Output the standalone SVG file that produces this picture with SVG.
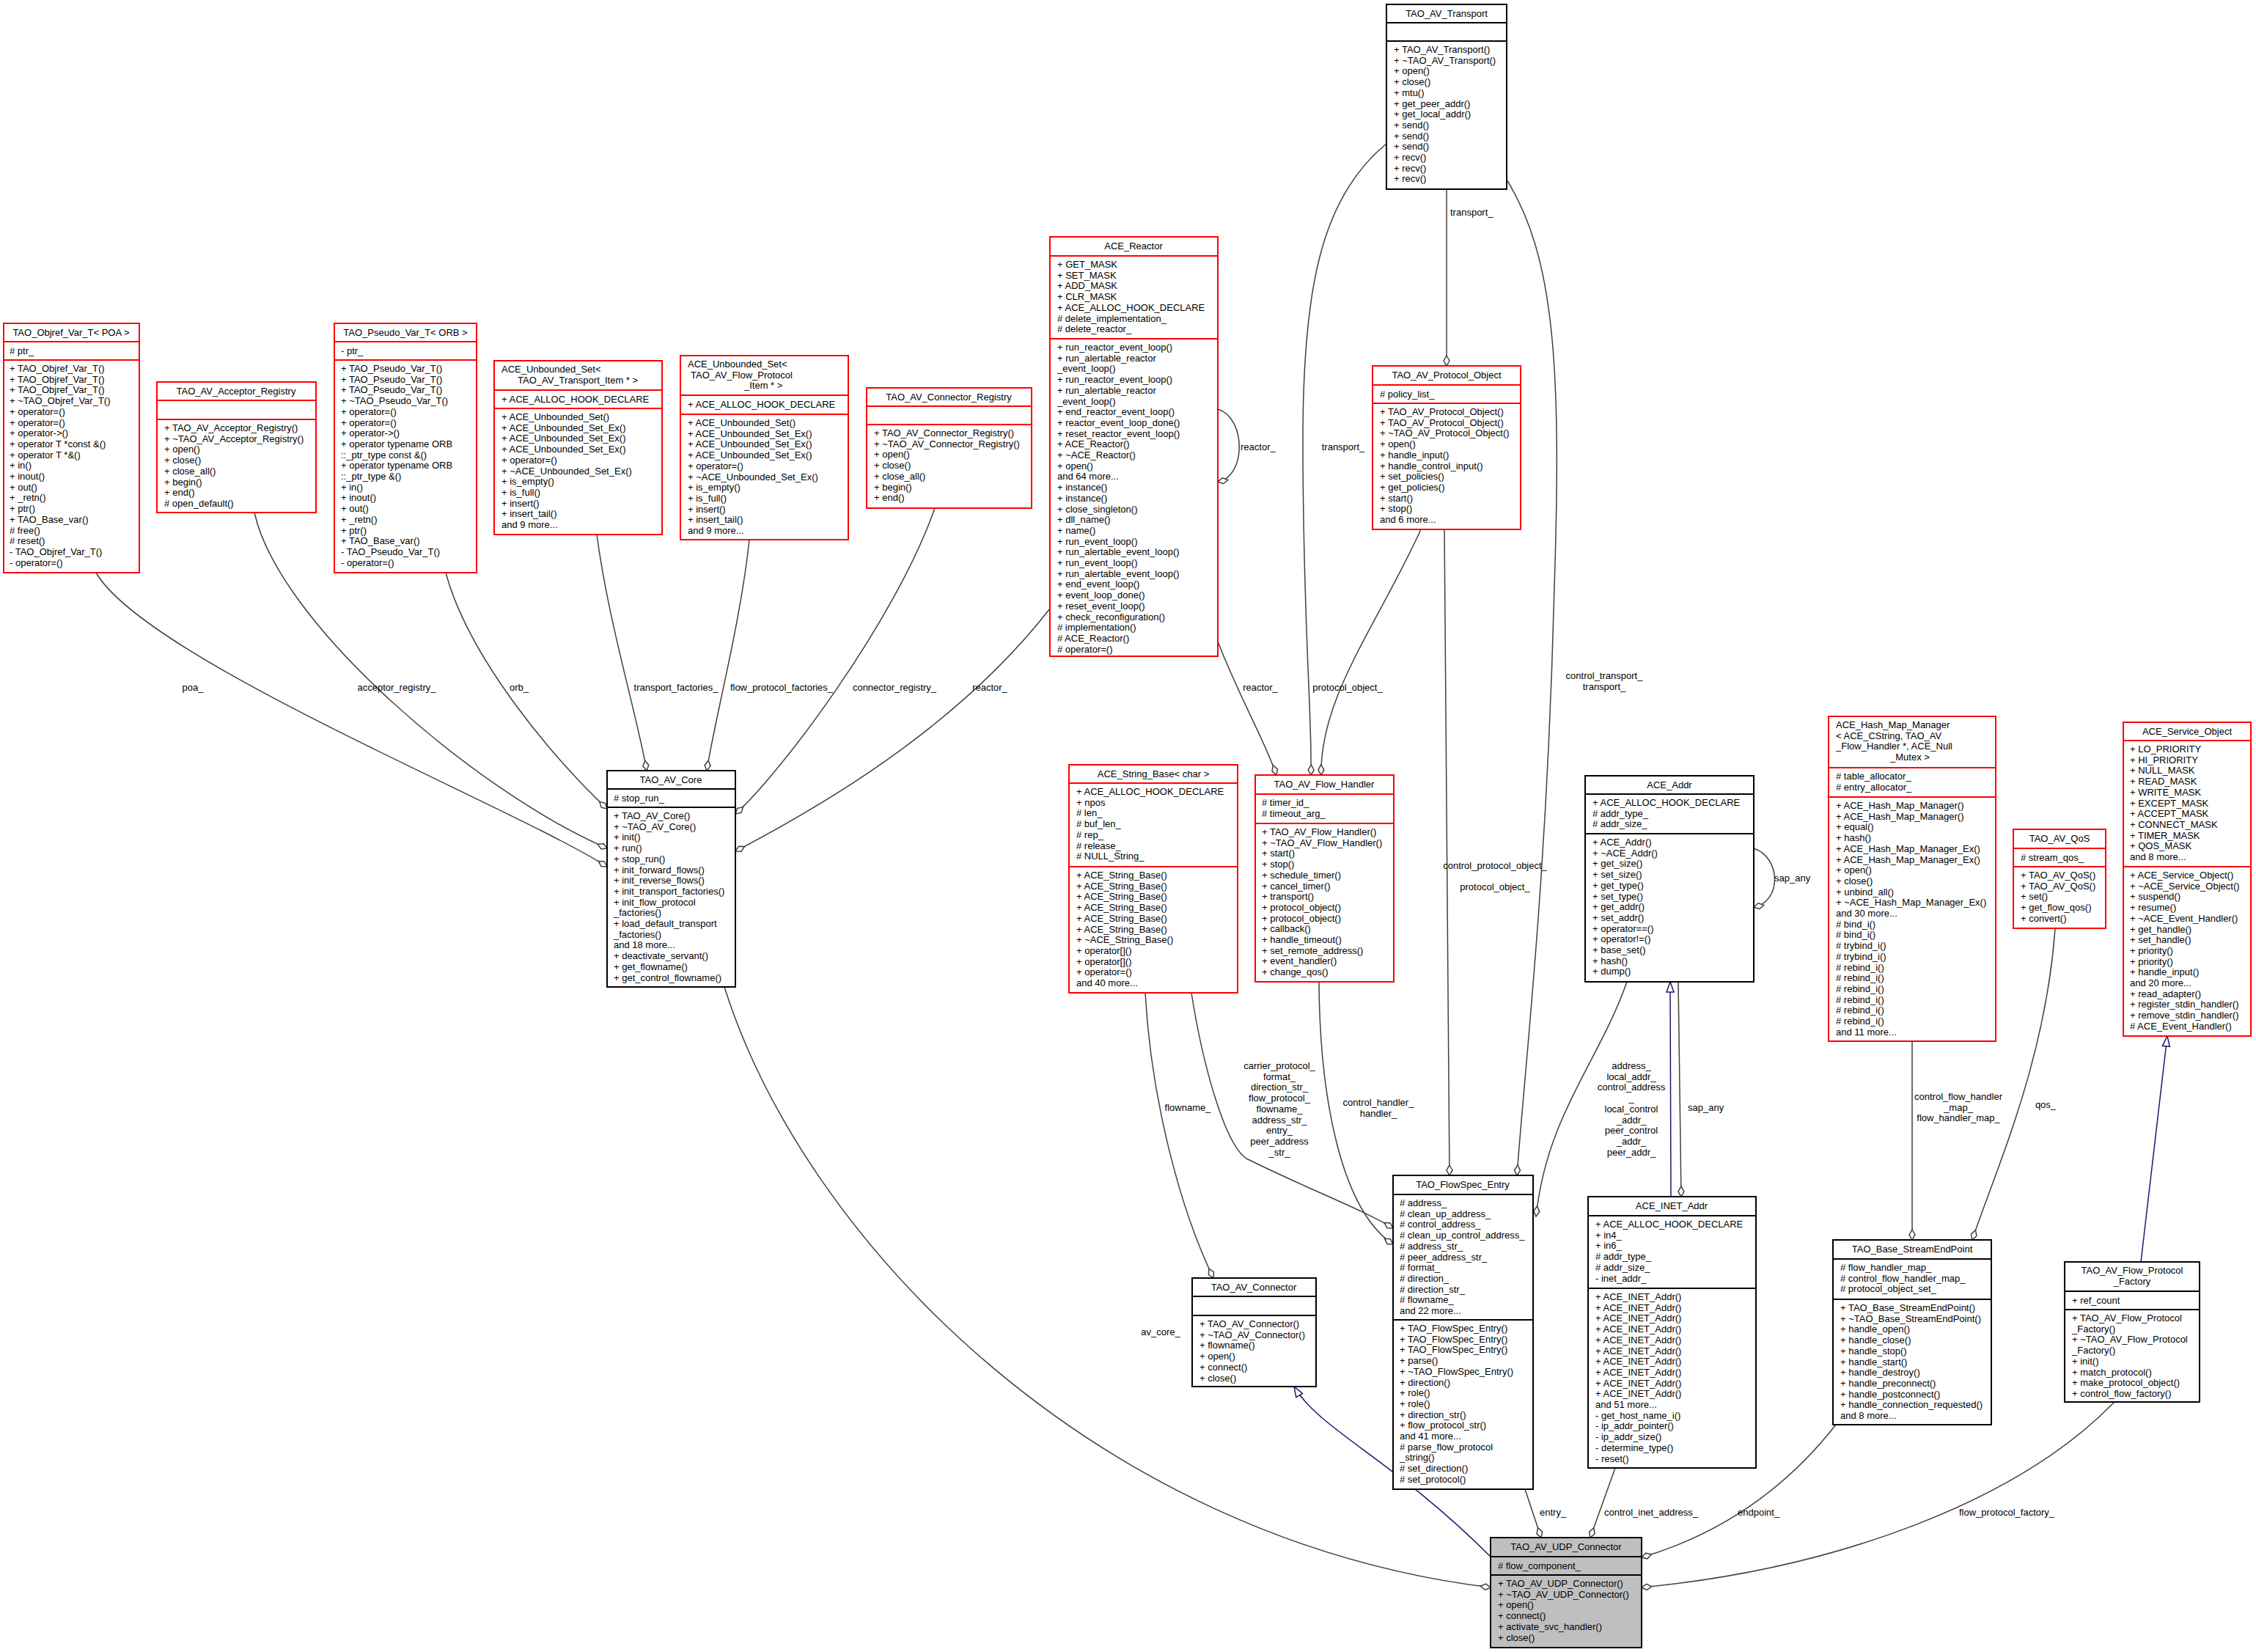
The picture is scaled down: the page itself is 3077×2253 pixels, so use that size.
<svg xmlns="http://www.w3.org/2000/svg" width="3077" height="2253" viewBox="0 0 3077 2253">
<defs>
<style>
text{font-family:"Liberation Sans",Arial,sans-serif;font-size:13px;fill:#000}
.node rect{fill:#fff;stroke-width:2}
.red rect,.red line{stroke:#ff0000}
.blk rect,.blk line{stroke:#000}
.node line{stroke-width:2}
.cur rect{fill:#bfbfbf}
.t{text-anchor:middle}
.e{fill:none;stroke:#404040;stroke-width:1.5;marker-end:url(#dia)}
.i{fill:none;stroke:#191970;stroke-width:1.5;marker-end:url(#tri)}
.lb{text-anchor:middle}
</style>
<marker id="dia" markerUnits="userSpaceOnUse" markerWidth="16" markerHeight="10" refX="14" refY="5" orient="auto" overflow="visible"><path d="M0,5 L7,1 L14,5 L7,9 Z" fill="#fff" stroke="#404040" stroke-width="1.5"/></marker>
<marker id="tri" markerUnits="userSpaceOnUse" markerWidth="16" markerHeight="12" refX="14" refY="6" orient="auto" overflow="visible"><path d="M0,1 L14,6 L0,11 Z" fill="#fff" stroke="#191970" stroke-width="1.5"/></marker>
</defs>
<rect width="3077" height="2253" fill="#fff"/>
<g id="connectors">
<path class="e" d="M131,781 C200,900 700,1100 828,1182"/>
<path class="e" d="M347,699 C380,850 650,1080 828,1157"/>
<path class="e" d="M608,781 C640,900 760,1040 828,1103"/>
<path class="e" d="M814,729 C830,850 870,980 882,1051"/>
<path class="e" d="M1022,736 C1010,850 975,980 964,1051"/>
<path class="e" d="M1275,693 C1220,850 1060,1060 1003,1110"/>
<path class="e" d="M1432,830 C1300,1000 1100,1110 1003,1161"/>
<path class="e" d="M1661,558 C1700,570 1700,650 1661,657"/>
<path class="e" d="M1661,875 C1690,950 1725,1010 1741,1057"/>
<path class="e" d="M1891,196 C1800,270 1777,400 1777,600 C1777,850 1790,980 1788,1057"/>
<path class="e" d="M1938,722 C1880,850 1800,950 1802,1057"/>
<path class="e" d="M1973,258 L1973,499"/>
<path class="e" d="M2055,245 C2120,350 2130,500 2120,800 C2110,1200 2080,1450 2069,1603"/>
<path class="e" d="M1970,722 C1972,1000 1976,1300 1977,1603"/>
<path class="e" d="M1625,1354 C1640,1450 1670,1560 1700,1580 C1780,1620 1860,1650 1900,1675"/>
<path class="e" d="M1799,1339 C1800,1500 1830,1650 1900,1697"/>
<path class="e" d="M1562,1354 C1570,1500 1610,1650 1655,1743"/>
<path class="e" d="M2219,1339 C2180,1450 2110,1520 2095,1659"/>
<path class="e" d="M2392,1157 C2430,1170 2430,1230 2392,1237"/>
<path class="i" d="M2279,1632 L2278,1339"/>
<path class="e" d="M2289,1339 L2293,1632"/>
<path class="e" d="M2608,1420 L2608,1691"/>
<path class="e" d="M2803,1266 C2790,1450 2720,1600 2690,1691"/>
<path class="i" d="M2920,1721 L2956,1413"/>
<path class="i" d="M2033,2123 C1900,1990 1800,1950 1765,1891"/>
<path class="e" d="M988,1346 C1100,1700 1500,2100 2033,2165"/>
<path class="e" d="M2080,2031 L2102,2097"/>
<path class="e" d="M2203,2002 L2169,2097"/>
<path class="e" d="M2504,1943 C2420,2050 2320,2100 2239,2124"/>
<path class="e" d="M2884,1912 C2750,2050 2500,2140 2239,2165"/>
<text class="lb" x="263" y="942">poa_</text>
<text class="lb" x="541" y="942">acceptor_registry_</text>
<text class="lb" x="708" y="942">orb_</text>
<text class="lb" x="922" y="942">transport_factories_</text>
<text class="lb" x="1066" y="942">flow_protocol_factories_</text>
<text class="lb" x="1220" y="942">connector_registry_</text>
<text class="lb" x="1350" y="942">reactor_</text>
<text x="1692" y="614">reactor_</text>
<text class="lb" x="1719" y="942">reactor_</text>
<text class="lb" x="1832" y="614">transport_</text>
<text class="lb" x="1838" y="942">protocol_object_</text>
<text x="1978" y="294">transport_</text>
<text class="lb" x="2188" y="926">control_transport_</text>
<text class="lb" x="2188" y="941">transport_</text>
<text class="lb" x="2039" y="1185">control_protocol_object_</text>
<text class="lb" x="2039" y="1214">protocol_object_</text>
<text class="lb" x="1745" y="1458"><tspan x="1745">carrier_protocol_</tspan><tspan x="1745" dy="14.7">format_</tspan><tspan x="1745" dy="14.7">direction_str_</tspan><tspan x="1745" dy="14.7">flow_protocol_</tspan><tspan x="1745" dy="14.7">flowname_</tspan><tspan x="1745" dy="14.7">address_str_</tspan><tspan x="1745" dy="14.7">entry_</tspan><tspan x="1745" dy="14.7">peer_address</tspan><tspan x="1745" dy="14.7">_str_</tspan></text>
<text class="lb" x="1880" y="1508"><tspan x="1880">control_handler_</tspan><tspan x="1880" dy="14.7">handler_</tspan></text>
<text class="lb" x="1620" y="1515">flowname_</text>
<text class="lb" x="2225" y="1458"><tspan x="2225">address_</tspan><tspan x="2225" dy="14.7">local_addr_</tspan><tspan x="2225" dy="14.7">control_address</tspan><tspan x="2225" dy="14.7">_</tspan><tspan x="2225" dy="14.7">local_control</tspan><tspan x="2225" dy="14.7">_addr_</tspan><tspan x="2225" dy="14.7">peer_control</tspan><tspan x="2225" dy="14.7">_addr_</tspan><tspan x="2225" dy="14.7">peer_addr_</tspan></text>
<text x="2420" y="1202">sap_any</text>
<text x="2302" y="1515">sap_any</text>
<text class="lb" x="2671" y="1500"><tspan x="2671">control_flow_handler</tspan><tspan x="2671" dy="14.7">_map_</tspan><tspan x="2671" dy="14.7">flow_handler_map_</tspan></text>
<text class="lb" x="2790" y="1511">qos_</text>
<text class="lb" x="1583" y="1821">av_core_</text>
<text x="2100" y="2067">entry_</text>
<text x="2188" y="2067">control_inet_address_</text>
<text x="2370" y="2067">endpoint_</text>
<text x="2672" y="2067">flow_protocol_factory_</text>
</g>
<g id="n_objref" class="node red"><rect x="5" y="441" width="185" height="340"/><line x1="5" y1="466" x2="190" y2="466"/><line x1="5" y1="491" x2="190" y2="491"/>
<text class="t" x="97" y="458">TAO_Objref_Var_T&lt; POA &gt;</text>
<text x="13" y="483"># ptr_</text>
<text x="13" y="507"><tspan x="13">+ TAO_Objref_Var_T()</tspan><tspan x="13" dy="14.7">+ TAO_Objref_Var_T()</tspan><tspan x="13" dy="14.7">+ TAO_Objref_Var_T()</tspan><tspan x="13" dy="14.7">+ ~TAO_Objref_Var_T()</tspan><tspan x="13" dy="14.7">+ operator=()</tspan><tspan x="13" dy="14.7">+ operator=()</tspan><tspan x="13" dy="14.7">+ operator-&gt;()</tspan><tspan x="13" dy="14.7">+ operator T *const &amp;()</tspan><tspan x="13" dy="14.7">+ operator T *&amp;()</tspan><tspan x="13" dy="14.7">+ in()</tspan><tspan x="13" dy="14.7">+ inout()</tspan><tspan x="13" dy="14.7">+ out()</tspan><tspan x="13" dy="14.7">+ _retn()</tspan><tspan x="13" dy="14.7">+ ptr()</tspan><tspan x="13" dy="14.7">+ TAO_Base_var()</tspan><tspan x="13" dy="14.7"># free()</tspan><tspan x="13" dy="14.7"># reset()</tspan><tspan x="13" dy="14.7">- TAO_Objref_Var_T()</tspan><tspan x="13" dy="14.7">- operator=()</tspan></text></g>
<g id="n_acceptor" class="node red"><rect x="214" y="521" width="217" height="178"/><line x1="214" y1="546" x2="431" y2="546"/><line x1="214" y1="572" x2="431" y2="572"/>
<text class="t" x="322" y="538">TAO_AV_Acceptor_Registry</text>
<text x="224" y="588"><tspan x="224">+ TAO_AV_Acceptor_Registry()</tspan><tspan x="224" dy="14.7">+ ~TAO_AV_Acceptor_Registry()</tspan><tspan x="224" dy="14.7">+ open()</tspan><tspan x="224" dy="14.7">+ close()</tspan><tspan x="224" dy="14.7">+ close_all()</tspan><tspan x="224" dy="14.7">+ begin()</tspan><tspan x="224" dy="14.7">+ end()</tspan><tspan x="224" dy="14.7"># open_default()</tspan></text></g>
<g id="n_pseudo" class="node red"><rect x="456" y="441" width="194" height="340"/><line x1="456" y1="466" x2="650" y2="466"/><line x1="456" y1="491" x2="650" y2="491"/>
<text class="t" x="553" y="458">TAO_Pseudo_Var_T&lt; ORB &gt;</text>
<text x="465" y="483">- ptr_</text>
<text x="465" y="507"><tspan x="465">+ TAO_Pseudo_Var_T()</tspan><tspan x="465" dy="14.7">+ TAO_Pseudo_Var_T()</tspan><tspan x="465" dy="14.7">+ TAO_Pseudo_Var_T()</tspan><tspan x="465" dy="14.7">+ ~TAO_Pseudo_Var_T()</tspan><tspan x="465" dy="14.7">+ operator=()</tspan><tspan x="465" dy="14.7">+ operator=()</tspan><tspan x="465" dy="14.7">+ operator-&gt;()</tspan><tspan x="465" dy="14.7">+ operator typename ORB</tspan><tspan x="465" dy="14.7">::_ptr_type const &amp;()</tspan><tspan x="465" dy="14.7">+ operator typename ORB</tspan><tspan x="465" dy="14.7">::_ptr_type &amp;()</tspan><tspan x="465" dy="14.7">+ in()</tspan><tspan x="465" dy="14.7">+ inout()</tspan><tspan x="465" dy="14.7">+ out()</tspan><tspan x="465" dy="14.7">+ _retn()</tspan><tspan x="465" dy="14.7">+ ptr()</tspan><tspan x="465" dy="14.7">+ TAO_Base_var()</tspan><tspan x="465" dy="14.7">- TAO_Pseudo_Var_T()</tspan><tspan x="465" dy="14.7">- operator=()</tspan></text></g>
<g id="n_unbt" class="node red"><rect x="674" y="492" width="229" height="237"/><line x1="674" y1="532" x2="903" y2="532"/><line x1="674" y1="557" x2="903" y2="557"/>
<text x="684" y="508"><tspan x="684">ACE_Unbounded_Set&lt;</tspan><tspan x="706" dy="14.7">TAO_AV_Transport_Item * &gt;</tspan></text>
<text x="684" y="549">+ ACE_ALLOC_HOOK_DECLARE</text>
<text x="684" y="573"><tspan x="684">+ ACE_Unbounded_Set()</tspan><tspan x="684" dy="14.7">+ ACE_Unbounded_Set_Ex()</tspan><tspan x="684" dy="14.7">+ ACE_Unbounded_Set_Ex()</tspan><tspan x="684" dy="14.7">+ ACE_Unbounded_Set_Ex()</tspan><tspan x="684" dy="14.7">+ operator=()</tspan><tspan x="684" dy="14.7">+ ~ACE_Unbounded_Set_Ex()</tspan><tspan x="684" dy="14.7">+ is_empty()</tspan><tspan x="684" dy="14.7">+ is_full()</tspan><tspan x="684" dy="14.7">+ insert()</tspan><tspan x="684" dy="14.7">+ insert_tail()</tspan><tspan x="684" dy="14.7">and 9 more...</tspan></text></g>
<g id="n_unbf" class="node red"><rect x="928" y="485" width="229" height="251"/><line x1="928" y1="539" x2="1157" y2="539"/><line x1="928" y1="565" x2="1157" y2="565"/>
<text x="938" y="501"><tspan x="938">ACE_Unbounded_Set&lt;</tspan><tspan x="942" dy="14.7">TAO_AV_Flow_Protocol</tspan><tspan x="1015" dy="14.7">_Item * &gt;</tspan></text>
<text x="938" y="556">+ ACE_ALLOC_HOOK_DECLARE</text>
<text x="938" y="581"><tspan x="938">+ ACE_Unbounded_Set()</tspan><tspan x="938" dy="14.7">+ ACE_Unbounded_Set_Ex()</tspan><tspan x="938" dy="14.7">+ ACE_Unbounded_Set_Ex()</tspan><tspan x="938" dy="14.7">+ ACE_Unbounded_Set_Ex()</tspan><tspan x="938" dy="14.7">+ operator=()</tspan><tspan x="938" dy="14.7">+ ~ACE_Unbounded_Set_Ex()</tspan><tspan x="938" dy="14.7">+ is_empty()</tspan><tspan x="938" dy="14.7">+ is_full()</tspan><tspan x="938" dy="14.7">+ insert()</tspan><tspan x="938" dy="14.7">+ insert_tail()</tspan><tspan x="938" dy="14.7">and 9 more...</tspan></text></g>
<g id="n_connreg" class="node red"><rect x="1182" y="529" width="225" height="164"/><line x1="1182" y1="554" x2="1407" y2="554"/><line x1="1182" y1="579" x2="1407" y2="579"/>
<text class="t" x="1294" y="546">TAO_AV_Connector_Registry</text>
<text x="1192" y="595"><tspan x="1192">+ TAO_AV_Connector_Registry()</tspan><tspan x="1192" dy="14.7">+ ~TAO_AV_Connector_Registry()</tspan><tspan x="1192" dy="14.7">+ open()</tspan><tspan x="1192" dy="14.7">+ close()</tspan><tspan x="1192" dy="14.7">+ close_all()</tspan><tspan x="1192" dy="14.7">+ begin()</tspan><tspan x="1192" dy="14.7">+ end()</tspan></text></g>
<g id="n_reactor" class="node red"><rect x="1432" y="323" width="229" height="572"/><line x1="1432" y1="349" x2="1661" y2="349"/><line x1="1432" y1="462" x2="1661" y2="462"/>
<text class="t" x="1546" y="340">ACE_Reactor</text>
<text x="1442" y="365"><tspan x="1442">+ GET_MASK</tspan><tspan x="1442" dy="14.7">+ SET_MASK</tspan><tspan x="1442" dy="14.7">+ ADD_MASK</tspan><tspan x="1442" dy="14.7">+ CLR_MASK</tspan><tspan x="1442" dy="14.7">+ ACE_ALLOC_HOOK_DECLARE</tspan><tspan x="1442" dy="14.7"># delete_implementation_</tspan><tspan x="1442" dy="14.7"># delete_reactor_</tspan></text>
<text x="1442" y="478"><tspan x="1442">+ run_reactor_event_loop()</tspan><tspan x="1442" dy="14.7">+ run_alertable_reactor</tspan><tspan x="1442" dy="14.7">_event_loop()</tspan><tspan x="1442" dy="14.7">+ run_reactor_event_loop()</tspan><tspan x="1442" dy="14.7">+ run_alertable_reactor</tspan><tspan x="1442" dy="14.7">_event_loop()</tspan><tspan x="1442" dy="14.7">+ end_reactor_event_loop()</tspan><tspan x="1442" dy="14.7">+ reactor_event_loop_done()</tspan><tspan x="1442" dy="14.7">+ reset_reactor_event_loop()</tspan><tspan x="1442" dy="14.7">+ ACE_Reactor()</tspan><tspan x="1442" dy="14.7">+ ~ACE_Reactor()</tspan><tspan x="1442" dy="14.7">+ open()</tspan><tspan x="1442" dy="14.7">and 64 more...</tspan><tspan x="1442" dy="14.7">+ instance()</tspan><tspan x="1442" dy="14.7">+ instance()</tspan><tspan x="1442" dy="14.7">+ close_singleton()</tspan><tspan x="1442" dy="14.7">+ dll_name()</tspan><tspan x="1442" dy="14.7">+ name()</tspan><tspan x="1442" dy="14.7">+ run_event_loop()</tspan><tspan x="1442" dy="14.7">+ run_alertable_event_loop()</tspan><tspan x="1442" dy="14.7">+ run_event_loop()</tspan><tspan x="1442" dy="14.7">+ run_alertable_event_loop()</tspan><tspan x="1442" dy="14.7">+ end_event_loop()</tspan><tspan x="1442" dy="14.7">+ event_loop_done()</tspan><tspan x="1442" dy="14.7">+ reset_event_loop()</tspan><tspan x="1442" dy="14.7">+ check_reconfiguration()</tspan><tspan x="1442" dy="14.7"># implementation()</tspan><tspan x="1442" dy="14.7"># ACE_Reactor()</tspan><tspan x="1442" dy="14.7"># operator=()</tspan></text></g>
<g id="n_transport" class="node blk"><rect x="1891" y="6" width="164" height="252"/><line x1="1891" y1="31" x2="2055" y2="31"/><line x1="1891" y1="56" x2="2055" y2="56"/>
<text class="t" x="1973" y="23">TAO_AV_Transport</text>
<text x="1901" y="72"><tspan x="1901">+ TAO_AV_Transport()</tspan><tspan x="1901" dy="14.7">+ ~TAO_AV_Transport()</tspan><tspan x="1901" dy="14.7">+ open()</tspan><tspan x="1901" dy="14.7">+ close()</tspan><tspan x="1901" dy="14.7">+ mtu()</tspan><tspan x="1901" dy="14.7">+ get_peer_addr()</tspan><tspan x="1901" dy="14.7">+ get_local_addr()</tspan><tspan x="1901" dy="14.7">+ send()</tspan><tspan x="1901" dy="14.7">+ send()</tspan><tspan x="1901" dy="14.7">+ send()</tspan><tspan x="1901" dy="14.7">+ recv()</tspan><tspan x="1901" dy="14.7">+ recv()</tspan><tspan x="1901" dy="14.7">+ recv()</tspan></text></g>
<g id="n_protobj" class="node red"><rect x="1872" y="499" width="202" height="223"/><line x1="1872" y1="525" x2="2074" y2="525"/><line x1="1872" y1="550" x2="2074" y2="550"/>
<text class="t" x="1973" y="516">TAO_AV_Protocol_Object</text>
<text x="1882" y="542"># policy_list_</text>
<text x="1882" y="566"><tspan x="1882">+ TAO_AV_Protocol_Object()</tspan><tspan x="1882" dy="14.7">+ TAO_AV_Protocol_Object()</tspan><tspan x="1882" dy="14.7">+ ~TAO_AV_Protocol_Object()</tspan><tspan x="1882" dy="14.7">+ open()</tspan><tspan x="1882" dy="14.7">+ handle_input()</tspan><tspan x="1882" dy="14.7">+ handle_control_input()</tspan><tspan x="1882" dy="14.7">+ set_policies()</tspan><tspan x="1882" dy="14.7">+ get_policies()</tspan><tspan x="1882" dy="14.7">+ start()</tspan><tspan x="1882" dy="14.7">+ stop()</tspan><tspan x="1882" dy="14.7">and 6 more...</tspan></text></g>
<g id="n_core" class="node blk"><rect x="828" y="1051" width="175" height="295"/><line x1="828" y1="1076" x2="1003" y2="1076"/><line x1="828" y1="1101" x2="1003" y2="1101"/>
<text class="t" x="915" y="1068">TAO_AV_Core</text>
<text x="837" y="1093"># stop_run_</text>
<text x="837" y="1117"><tspan x="837">+ TAO_AV_Core()</tspan><tspan x="837" dy="14.7">+ ~TAO_AV_Core()</tspan><tspan x="837" dy="14.7">+ init()</tspan><tspan x="837" dy="14.7">+ run()</tspan><tspan x="837" dy="14.7">+ stop_run()</tspan><tspan x="837" dy="14.7">+ init_forward_flows()</tspan><tspan x="837" dy="14.7">+ init_reverse_flows()</tspan><tspan x="837" dy="14.7">+ init_transport_factories()</tspan><tspan x="837" dy="14.7">+ init_flow_protocol</tspan><tspan x="837" dy="14.7">_factories()</tspan><tspan x="837" dy="14.7">+ load_default_transport</tspan><tspan x="837" dy="14.7">_factories()</tspan><tspan x="837" dy="14.7">and 18 more...</tspan><tspan x="837" dy="14.7">+ deactivate_servant()</tspan><tspan x="837" dy="14.7">+ get_flowname()</tspan><tspan x="837" dy="14.7">+ get_control_flowname()</tspan></text></g>
<g id="n_stringbase" class="node red"><rect x="1458" y="1043" width="230" height="311"/><line x1="1458" y1="1068" x2="1688" y2="1068"/><line x1="1458" y1="1182" x2="1688" y2="1182"/>
<text class="t" x="1573" y="1060">ACE_String_Base&lt; char &gt;</text>
<text x="1468" y="1084"><tspan x="1468">+ ACE_ALLOC_HOOK_DECLARE</tspan><tspan x="1468" dy="14.7">+ npos</tspan><tspan x="1468" dy="14.7"># len_</tspan><tspan x="1468" dy="14.7"># buf_len_</tspan><tspan x="1468" dy="14.7"># rep_</tspan><tspan x="1468" dy="14.7"># release_</tspan><tspan x="1468" dy="14.7"># NULL_String_</tspan></text>
<text x="1468" y="1198"><tspan x="1468">+ ACE_String_Base()</tspan><tspan x="1468" dy="14.7">+ ACE_String_Base()</tspan><tspan x="1468" dy="14.7">+ ACE_String_Base()</tspan><tspan x="1468" dy="14.7">+ ACE_String_Base()</tspan><tspan x="1468" dy="14.7">+ ACE_String_Base()</tspan><tspan x="1468" dy="14.7">+ ACE_String_Base()</tspan><tspan x="1468" dy="14.7">+ ~ACE_String_Base()</tspan><tspan x="1468" dy="14.7">+ operator[]()</tspan><tspan x="1468" dy="14.7">+ operator[]()</tspan><tspan x="1468" dy="14.7">+ operator=()</tspan><tspan x="1468" dy="14.7">and 40 more...</tspan></text></g>
<g id="n_flowhandler" class="node red"><rect x="1712" y="1057" width="189" height="282"/><line x1="1712" y1="1083" x2="1901" y2="1083"/><line x1="1712" y1="1123" x2="1901" y2="1123"/>
<text class="t" x="1806" y="1074">TAO_AV_Flow_Handler</text>
<text x="1721" y="1099"><tspan x="1721"># timer_id_</tspan><tspan x="1721" dy="14.7"># timeout_arg_</tspan></text>
<text x="1721" y="1139"><tspan x="1721">+ TAO_AV_Flow_Handler()</tspan><tspan x="1721" dy="14.7">+ ~TAO_AV_Flow_Handler()</tspan><tspan x="1721" dy="14.7">+ start()</tspan><tspan x="1721" dy="14.7">+ stop()</tspan><tspan x="1721" dy="14.7">+ schedule_timer()</tspan><tspan x="1721" dy="14.7">+ cancel_timer()</tspan><tspan x="1721" dy="14.7">+ transport()</tspan><tspan x="1721" dy="14.7">+ protocol_object()</tspan><tspan x="1721" dy="14.7">+ protocol_object()</tspan><tspan x="1721" dy="14.7">+ callback()</tspan><tspan x="1721" dy="14.7">+ handle_timeout()</tspan><tspan x="1721" dy="14.7">+ set_remote_address()</tspan><tspan x="1721" dy="14.7">+ event_handler()</tspan><tspan x="1721" dy="14.7">+ change_qos()</tspan></text></g>
<g id="n_aceaddr" class="node blk"><rect x="2162" y="1058" width="230" height="281"/><line x1="2162" y1="1083" x2="2392" y2="1083"/><line x1="2162" y1="1137" x2="2392" y2="1137"/>
<text class="t" x="2277" y="1075">ACE_Addr</text>
<text x="2172" y="1099"><tspan x="2172">+ ACE_ALLOC_HOOK_DECLARE</tspan><tspan x="2172" dy="14.7"># addr_type_</tspan><tspan x="2172" dy="14.7"># addr_size_</tspan></text>
<text x="2172" y="1153"><tspan x="2172">+ ACE_Addr()</tspan><tspan x="2172" dy="14.7">+ ~ACE_Addr()</tspan><tspan x="2172" dy="14.7">+ get_size()</tspan><tspan x="2172" dy="14.7">+ set_size()</tspan><tspan x="2172" dy="14.7">+ get_type()</tspan><tspan x="2172" dy="14.7">+ set_type()</tspan><tspan x="2172" dy="14.7">+ get_addr()</tspan><tspan x="2172" dy="14.7">+ set_addr()</tspan><tspan x="2172" dy="14.7">+ operator==()</tspan><tspan x="2172" dy="14.7">+ operator!=()</tspan><tspan x="2172" dy="14.7">+ base_set()</tspan><tspan x="2172" dy="14.7">+ hash()</tspan><tspan x="2172" dy="14.7">+ dump()</tspan></text></g>
<g id="n_hashmap" class="node red"><rect x="2494" y="977" width="228" height="443"/><line x1="2494" y1="1047" x2="2722" y2="1047"/><line x1="2494" y1="1087" x2="2722" y2="1087"/>
<text x="2504" y="993"><tspan x="2504">ACE_Hash_Map_Manager</tspan><tspan x="2504" dy="14.7">&lt; ACE_CString, TAO_AV</tspan><tspan x="2504" dy="14.7">_Flow_Handler *, ACE_Null</tspan><tspan x="2578" dy="14.7">_Mutex &gt;</tspan></text>
<text x="2504" y="1063"><tspan x="2504"># table_allocator_</tspan><tspan x="2504" dy="14.7"># entry_allocator_</tspan></text>
<text x="2504" y="1103"><tspan x="2504">+ ACE_Hash_Map_Manager()</tspan><tspan x="2504" dy="14.7">+ ACE_Hash_Map_Manager()</tspan><tspan x="2504" dy="14.7">+ equal()</tspan><tspan x="2504" dy="14.7">+ hash()</tspan><tspan x="2504" dy="14.7">+ ACE_Hash_Map_Manager_Ex()</tspan><tspan x="2504" dy="14.7">+ ACE_Hash_Map_Manager_Ex()</tspan><tspan x="2504" dy="14.7">+ open()</tspan><tspan x="2504" dy="14.7">+ close()</tspan><tspan x="2504" dy="14.7">+ unbind_all()</tspan><tspan x="2504" dy="14.7">+ ~ACE_Hash_Map_Manager_Ex()</tspan><tspan x="2504" dy="14.7">and 30 more...</tspan><tspan x="2504" dy="14.7"># bind_i()</tspan><tspan x="2504" dy="14.7"># bind_i()</tspan><tspan x="2504" dy="14.7"># trybind_i()</tspan><tspan x="2504" dy="14.7"># trybind_i()</tspan><tspan x="2504" dy="14.7"># rebind_i()</tspan><tspan x="2504" dy="14.7"># rebind_i()</tspan><tspan x="2504" dy="14.7"># rebind_i()</tspan><tspan x="2504" dy="14.7"># rebind_i()</tspan><tspan x="2504" dy="14.7"># rebind_i()</tspan><tspan x="2504" dy="14.7"># rebind_i()</tspan><tspan x="2504" dy="14.7">and 11 more...</tspan></text></g>
<g id="n_qos" class="node red"><rect x="2746" y="1131" width="126" height="135"/><line x1="2746" y1="1157" x2="2872" y2="1157"/><line x1="2746" y1="1182" x2="2872" y2="1182"/>
<text class="t" x="2809" y="1148">TAO_AV_QoS</text>
<text x="2756" y="1174"># stream_qos_</text>
<text x="2756" y="1198"><tspan x="2756">+ TAO_AV_QoS()</tspan><tspan x="2756" dy="14.7">+ TAO_AV_QoS()</tspan><tspan x="2756" dy="14.7">+ set()</tspan><tspan x="2756" dy="14.7">+ get_flow_qos()</tspan><tspan x="2756" dy="14.7">+ convert()</tspan></text></g>
<g id="n_serviceobj" class="node red"><rect x="2896" y="985" width="174" height="428"/><line x1="2896" y1="1010" x2="3070" y2="1010"/><line x1="2896" y1="1182" x2="3070" y2="1182"/>
<text class="t" x="2983" y="1002">ACE_Service_Object</text>
<text x="2905" y="1026"><tspan x="2905">+ LO_PRIORITY</tspan><tspan x="2905" dy="14.7">+ HI_PRIORITY</tspan><tspan x="2905" dy="14.7">+ NULL_MASK</tspan><tspan x="2905" dy="14.7">+ READ_MASK</tspan><tspan x="2905" dy="14.7">+ WRITE_MASK</tspan><tspan x="2905" dy="14.7">+ EXCEPT_MASK</tspan><tspan x="2905" dy="14.7">+ ACCEPT_MASK</tspan><tspan x="2905" dy="14.7">+ CONNECT_MASK</tspan><tspan x="2905" dy="14.7">+ TIMER_MASK</tspan><tspan x="2905" dy="14.7">+ QOS_MASK</tspan><tspan x="2905" dy="14.7">and 8 more...</tspan></text>
<text x="2905" y="1198"><tspan x="2905">+ ACE_Service_Object()</tspan><tspan x="2905" dy="14.7">+ ~ACE_Service_Object()</tspan><tspan x="2905" dy="14.7">+ suspend()</tspan><tspan x="2905" dy="14.7">+ resume()</tspan><tspan x="2905" dy="14.7">+ ~ACE_Event_Handler()</tspan><tspan x="2905" dy="14.7">+ get_handle()</tspan><tspan x="2905" dy="14.7">+ set_handle()</tspan><tspan x="2905" dy="14.7">+ priority()</tspan><tspan x="2905" dy="14.7">+ priority()</tspan><tspan x="2905" dy="14.7">+ handle_input()</tspan><tspan x="2905" dy="14.7">and 20 more...</tspan><tspan x="2905" dy="14.7">+ read_adapter()</tspan><tspan x="2905" dy="14.7">+ register_stdin_handler()</tspan><tspan x="2905" dy="14.7">+ remove_stdin_handler()</tspan><tspan x="2905" dy="14.7"># ACE_Event_Handler()</tspan></text></g>
<g id="n_flowspec" class="node blk"><rect x="1900" y="1603" width="191" height="428"/><line x1="1900" y1="1629" x2="2091" y2="1629"/><line x1="1900" y1="1800" x2="2091" y2="1800"/>
<text class="t" x="1995" y="1620">TAO_FlowSpec_Entry</text>
<text x="1909" y="1645"><tspan x="1909"># address_</tspan><tspan x="1909" dy="14.7"># clean_up_address_</tspan><tspan x="1909" dy="14.7"># control_address_</tspan><tspan x="1909" dy="14.7"># clean_up_control_address_</tspan><tspan x="1909" dy="14.7"># address_str_</tspan><tspan x="1909" dy="14.7"># peer_address_str_</tspan><tspan x="1909" dy="14.7"># format_</tspan><tspan x="1909" dy="14.7"># direction_</tspan><tspan x="1909" dy="14.7"># direction_str_</tspan><tspan x="1909" dy="14.7"># flowname_</tspan><tspan x="1909" dy="14.7">and 22 more...</tspan></text>
<text x="1909" y="1816"><tspan x="1909">+ TAO_FlowSpec_Entry()</tspan><tspan x="1909" dy="14.7">+ TAO_FlowSpec_Entry()</tspan><tspan x="1909" dy="14.7">+ TAO_FlowSpec_Entry()</tspan><tspan x="1909" dy="14.7">+ parse()</tspan><tspan x="1909" dy="14.7">+ ~TAO_FlowSpec_Entry()</tspan><tspan x="1909" dy="14.7">+ direction()</tspan><tspan x="1909" dy="14.7">+ role()</tspan><tspan x="1909" dy="14.7">+ role()</tspan><tspan x="1909" dy="14.7">+ direction_str()</tspan><tspan x="1909" dy="14.7">+ flow_protocol_str()</tspan><tspan x="1909" dy="14.7">and 41 more...</tspan><tspan x="1909" dy="14.7"># parse_flow_protocol</tspan><tspan x="1909" dy="14.7">_string()</tspan><tspan x="1909" dy="14.7"># set_direction()</tspan><tspan x="1909" dy="14.7"># set_protocol()</tspan></text></g>
<g id="n_inetaddr" class="node blk"><rect x="2166" y="1632" width="229" height="370"/><line x1="2166" y1="1658" x2="2395" y2="1658"/><line x1="2166" y1="1757" x2="2395" y2="1757"/>
<text class="t" x="2280" y="1649">ACE_INET_Addr</text>
<text x="2176" y="1674"><tspan x="2176">+ ACE_ALLOC_HOOK_DECLARE</tspan><tspan x="2176" dy="14.7">+ in4_</tspan><tspan x="2176" dy="14.7">+ in6_</tspan><tspan x="2176" dy="14.7"># addr_type_</tspan><tspan x="2176" dy="14.7"># addr_size_</tspan><tspan x="2176" dy="14.7">- inet_addr_</tspan></text>
<text x="2176" y="1773"><tspan x="2176">+ ACE_INET_Addr()</tspan><tspan x="2176" dy="14.7">+ ACE_INET_Addr()</tspan><tspan x="2176" dy="14.7">+ ACE_INET_Addr()</tspan><tspan x="2176" dy="14.7">+ ACE_INET_Addr()</tspan><tspan x="2176" dy="14.7">+ ACE_INET_Addr()</tspan><tspan x="2176" dy="14.7">+ ACE_INET_Addr()</tspan><tspan x="2176" dy="14.7">+ ACE_INET_Addr()</tspan><tspan x="2176" dy="14.7">+ ACE_INET_Addr()</tspan><tspan x="2176" dy="14.7">+ ACE_INET_Addr()</tspan><tspan x="2176" dy="14.7">+ ACE_INET_Addr()</tspan><tspan x="2176" dy="14.7">and 51 more...</tspan><tspan x="2176" dy="14.7">- get_host_name_i()</tspan><tspan x="2176" dy="14.7">- ip_addr_pointer()</tspan><tspan x="2176" dy="14.7">- ip_addr_size()</tspan><tspan x="2176" dy="14.7">- determine_type()</tspan><tspan x="2176" dy="14.7">- reset()</tspan></text></g>
<g id="n_basesep" class="node blk"><rect x="2500" y="1691" width="216" height="252"/><line x1="2500" y1="1717" x2="2716" y2="1717"/><line x1="2500" y1="1772" x2="2716" y2="1772"/>
<text class="t" x="2608" y="1708">TAO_Base_StreamEndPoint</text>
<text x="2510" y="1733"><tspan x="2510"># flow_handler_map_</tspan><tspan x="2510" dy="14.7"># control_flow_handler_map_</tspan><tspan x="2510" dy="14.7"># protocol_object_set_</tspan></text>
<text x="2510" y="1788"><tspan x="2510">+ TAO_Base_StreamEndPoint()</tspan><tspan x="2510" dy="14.7">+ ~TAO_Base_StreamEndPoint()</tspan><tspan x="2510" dy="14.7">+ handle_open()</tspan><tspan x="2510" dy="14.7">+ handle_close()</tspan><tspan x="2510" dy="14.7">+ handle_stop()</tspan><tspan x="2510" dy="14.7">+ handle_start()</tspan><tspan x="2510" dy="14.7">+ handle_destroy()</tspan><tspan x="2510" dy="14.7">+ handle_preconnect()</tspan><tspan x="2510" dy="14.7">+ handle_postconnect()</tspan><tspan x="2510" dy="14.7">+ handle_connection_requested()</tspan><tspan x="2510" dy="14.7">and 8 more...</tspan></text></g>
<g id="n_avconnector" class="node blk"><rect x="1626" y="1743" width="169" height="148"/><line x1="1626" y1="1768" x2="1795" y2="1768"/><line x1="1626" y1="1794" x2="1795" y2="1794"/>
<text class="t" x="1710" y="1760">TAO_AV_Connector</text>
<text x="1636" y="1810"><tspan x="1636">+ TAO_AV_Connector()</tspan><tspan x="1636" dy="14.7">+ ~TAO_AV_Connector()</tspan><tspan x="1636" dy="14.7">+ flowname()</tspan><tspan x="1636" dy="14.7">+ open()</tspan><tspan x="1636" dy="14.7">+ connect()</tspan><tspan x="1636" dy="14.7">+ close()</tspan></text></g>
<g id="n_fpfactory" class="node blk"><rect x="2816" y="1721" width="184" height="191"/><line x1="2816" y1="1761" x2="3000" y2="1761"/><line x1="2816" y1="1786" x2="3000" y2="1786"/>
<text class="t" x="2908" y="1737"><tspan x="2908">TAO_AV_Flow_Protocol</tspan><tspan x="2908" dy="14.7">_Factory</tspan></text>
<text x="2826" y="1778">+ ref_count</text>
<text x="2826" y="1802"><tspan x="2826">+ TAO_AV_Flow_Protocol</tspan><tspan x="2826" dy="14.7">_Factory()</tspan><tspan x="2826" dy="14.7">+ ~TAO_AV_Flow_Protocol</tspan><tspan x="2826" dy="14.7">_Factory()</tspan><tspan x="2826" dy="14.7">+ init()</tspan><tspan x="2826" dy="14.7">+ match_protocol()</tspan><tspan x="2826" dy="14.7">+ make_protocol_object()</tspan><tspan x="2826" dy="14.7">+ control_flow_factory()</tspan></text></g>
<g id="n_udpconnector" class="node blk cur"><rect x="2033" y="2097" width="206" height="150"/><line x1="2033" y1="2123" x2="2239" y2="2123"/><line x1="2033" y1="2148" x2="2239" y2="2148"/>
<text class="t" x="2136" y="2114">TAO_AV_UDP_Connector</text>
<text x="2043" y="2140"># flow_component_</text>
<text x="2043" y="2164"><tspan x="2043">+ TAO_AV_UDP_Connector()</tspan><tspan x="2043" dy="14.7">+ ~TAO_AV_UDP_Connector()</tspan><tspan x="2043" dy="14.7">+ open()</tspan><tspan x="2043" dy="14.7">+ connect()</tspan><tspan x="2043" dy="14.7">+ activate_svc_handler()</tspan><tspan x="2043" dy="14.7">+ close()</tspan></text></g>
</svg>
